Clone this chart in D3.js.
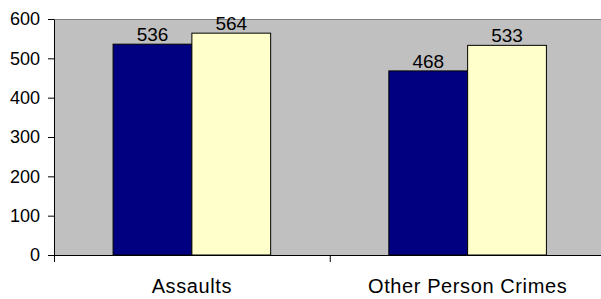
<!DOCTYPE html>
<html>
<head>
<meta charset="utf-8">
<script src="https://cdn.jsdelivr.net/npm/d3@7"></script>
<style>
  html, body { margin: 0; padding: 0; background: #fff; }
  svg { display: block; font-family: "Liberation Sans", Arial, sans-serif; }
</style>
</head>
<body>
<div id="chart"></div>
<script>
const categories = ['Assaults', 'Other Person Crimes'];
const seriesNames = ['Series A', 'Series B'];
const seriesA = [536, 468];
const seriesB = [564, 533];
const yTicks = [0, 100, 200, 300, 400, 500, 600];

const width = 601, height = 299;
const plot = { left: 54, top: 19, right: 605.5, bottom: 255 };
const colors = ['#000080', '#FFFFCC'];

const svg = d3.select('#chart')
  .append('svg')
  .attr('width', width)
  .attr('height', height);

const x = d3.scaleBand()
  .domain(categories)
  .range([plot.left, plot.right])
  .paddingInner(0)
  .paddingOuter(0);

const xs = d3.scaleBand()
  .domain(seriesNames)
  .range([0, x.bandwidth()])
  .paddingInner(0)
  .paddingOuter(0.75);

const xEdge = d3.scaleLinear()
  .domain([0, categories.length])
  .range([plot.left, plot.right]);

const y = d3.scaleLinear()
  .domain([0, 600])
  .range([plot.bottom, plot.top]);

// plot background
svg.append('rect')
  .attr('x', plot.left)
  .attr('y', plot.top)
  .attr('width', width - plot.left)
  .attr('height', plot.bottom - plot.top)
  .attr('fill', '#C0C0C0');

svg.append('line')
  .attr('x1', plot.left).attr('x2', width)
  .attr('y1', plot.top + 0.5).attr('y2', plot.top + 0.5)
  .attr('stroke', '#808080');

const data = categories.flatMap((c, i) => [
  { cat: c, s: seriesNames[0], v: seriesA[i] },
  { cat: c, s: seriesNames[1], v: seriesB[i] }
]);

svg.selectAll('rect.bar')
  .data(data)
  .enter()
  .append('rect')
  .attr('class', 'bar')
  .attr('x', d => x(d.cat) + xs(d.s))
  .attr('y', d => y(d.v))
  .attr('width', xs.bandwidth())
  .attr('height', d => y(0) - y(d.v))
  .attr('fill', d => colors[seriesNames.indexOf(d.s)])
  .attr('stroke', '#000')
  .attr('stroke-width', 1);

svg.selectAll('text.val')
  .data(data)
  .enter()
  .append('text')
  .attr('class', 'val')
  .attr('x', d => x(d.cat) + xs(d.s) + xs.bandwidth() / 2)
  .attr('y', d => y(d.v) - 3)
  .attr('text-anchor', 'middle')
  .style('font-size', '19px')
  .attr('fill', '#000')
  .text(d => d.v);

// y axis
const gy = svg.append('g')
  .attr('transform', `translate(${plot.left},0)`)
  .call(d3.axisLeft(y).tickValues(yTicks).tickSize(6).tickSizeOuter(0).tickPadding(8));
gy.select('.domain').attr('stroke', '#000');
gy.selectAll('.tick line').attr('stroke', '#000');
gy.selectAll('text')
  .style('font-family', '"Liberation Sans", Arial, sans-serif')
  .style('font-size', '18px')
  .attr('fill', '#000');

// x axis
const gx = svg.append('g')
  .attr('transform', `translate(0,${plot.bottom})`)
  .call(d3.axisBottom(xEdge).tickValues(d3.range(categories.length + 1)).tickFormat('').tickSize(7).tickSizeOuter(0));
gx.select('.domain').attr('stroke', '#000');
gx.selectAll('.tick line').attr('stroke', '#000');

svg.selectAll('text.cat')
  .data(categories)
  .enter()
  .append('text')
  .attr('class', 'cat')
  .attr('x', d => x(d) + x.bandwidth() / 2)
  .attr('y', 293)
  .attr('text-anchor', 'middle')
  .style('font-size', '20px')
  .style('letter-spacing', '0.6px')
  .attr('fill', '#000')
  .text(d => d);
</script>
</body>
</html>
